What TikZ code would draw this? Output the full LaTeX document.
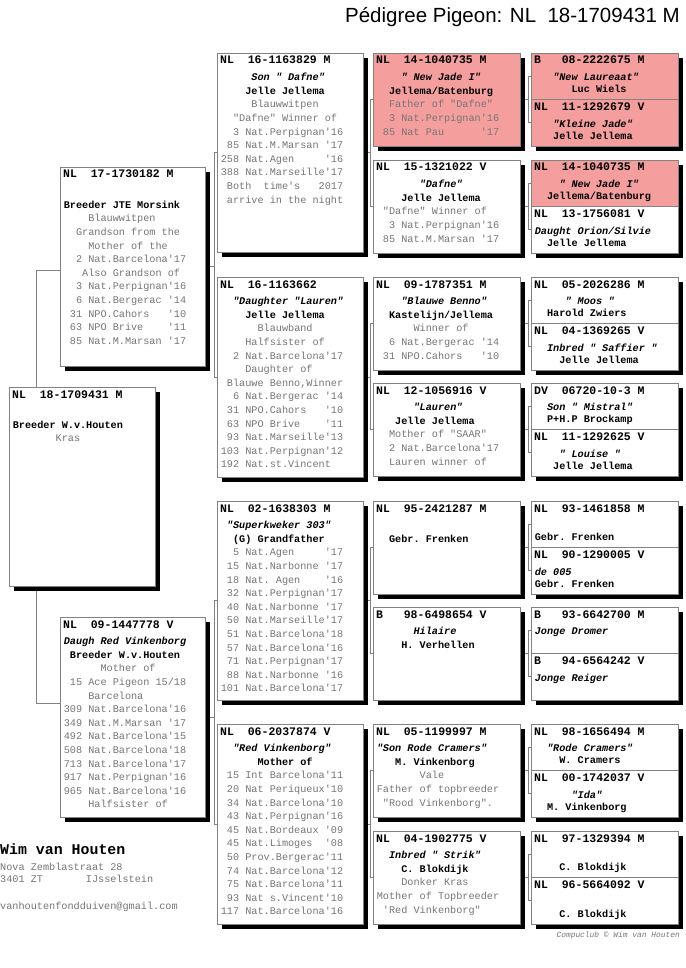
\documentclass[tikz,border=0pt]{standalone}
\usepackage{fontspec}
\setmainfont{Liberation Sans}
\setmonofont{Liberation Mono}
\usetikzlibrary{backgrounds}
\definecolor{pinkf}{RGB}{244,158,158}
\definecolor{txtgray}{RGB}{118,118,118}
\definecolor{lngray}{RGB}{130,130,130}
\newcommand\ind[1]{\hspace*{#1\fontcharwd\font`0}}
\newcommand\fst{\rule{0pt}{9pt}}
\newcommand\qs{\textquotesingle}
\newcommand\nmb[1]{{\color{black}\bfseries#1}}
\newcommand\nmbi[1]{{\color{black}\bfseries\itshape#1}}
\newcommand\shd[4]{\fill[black] (#1+5,#2+5) rectangle (#1+#3+5,#2+#4+5);}
\newcommand\pb[6]{\shd{#2}{#3}{#4}{#5}\node[box,fill=#6,minimum width=#4pt,minimum height=#5pt] (#1) at (#2,#3) {};}
\newcommand\qp[4]{\shd{531}{#2}{147}{93}%
  \node[box,fill=#3,minimum width=147pt,minimum height=46.5pt] (#1a) at (531,#2) {};%
  \node[box,fill=#4,minimum width=147pt,minimum height=46.5pt] (#1b) at (531,#2+46.5) {};}
\newcommand\hd[2]{\node[hdr] (#1-h) at ([shift={(3,11)}]#1.north west) {#2};}
\newcommand\bd[2]{\node[body] (#1-t) at ([shift={(3.6,18.5)}]#1.north west) {\fst#2};}
\newcommand\bq[2]{\node[bodyq] (#1-t) at ([shift={(3.6,18.5)}]#1.north west) {\fst#2};}
\newcommand\cn[2]{\draw[conn] (#1.east) -| ([xshift=-3pt]#2.west) -- (#2.west);}
\tikzset{
  box/.style={draw=lngray,line width=0.7pt,anchor=north west,inner sep=0pt,outer sep=0pt},
  hdr/.style={anchor=base west,inner sep=0pt,font=\ttfamily\bfseries\fontsize{11.5}{12}\selectfont},
  body/.style={anchor=north west,inner sep=0pt,align=left,text=txtgray,
    font=\ttfamily\frenchspacing\fontsize{10.2}{13.6}\selectfont},
  bodyq/.style={body,font=\ttfamily\frenchspacing\fontsize{10.2}{12}\selectfont},
  conn/.style={draw=lngray,line width=0.7pt}
}
\begin{document}
\begin{tikzpicture}[x=1pt,y=-1pt]
\begin{scope}[on background layer]
\fill[white] (0,0) rectangle (685,968);
\end{scope}
\useasboundingbox (0,0) rectangle (685,968);
% title
\node[anchor=base east,inner sep=0pt,font=\fontsize{20.5}{24}\selectfont] (title) at (680,23) {Pédigree Pigeon: NL~~18-1709431 M};
% generation 1 and subject
\pb{g1a}{60}{167}{145}{199}{white}
\pb{sub}{9}{387}{146}{199}{white}
\pb{g1b}{60}{617}{145}{200}{white}
% generation 2
\pb{g2a}{217}{53}{146}{199}{white}
\pb{g2b}{217}{277}{146}{200}{white}
\pb{g2c}{217}{501}{146}{199}{white}
\pb{g2d}{217}{724}{146}{200}{white}
% generation 3
\pb{g3a}{373}{53}{147}{93}{pinkf}
\pb{g3b}{373}{160}{147}{93}{white}
\pb{g3c}{373}{277}{147}{93}{white}
\pb{g3d}{373}{383}{147}{93}{white}
\pb{g3e}{373}{501}{147}{93}{white}
\pb{g3f}{373}{607}{147}{93}{white}
\pb{g3g}{373}{724}{147}{93}{white}
\pb{g3h}{373}{831}{147}{93}{white}
% generation 4
\qp{q1}{53}{pinkf}{pinkf}
\qp{q2}{160}{pinkf}{white}
\qp{q3}{277}{white}{white}
\qp{q4}{383}{white}{white}
\qp{q5}{501}{white}{white}
\qp{q6}{607}{white}{white}
\qp{q7}{724}{white}{white}
\qp{q8}{831}{white}{white}
% connectors
\begin{scope}[on background layer]
\draw[conn] ([yshift=-3.5pt]g1a.west) -| ([xshift=27pt]sub.north west);
\draw[conn] ([xshift=27pt]sub.south west) |- ([yshift=14pt]g1b.west);
\cn{g1a}{g2a}\cn{g1a}{g2b}\cn{g1b}{g2c}\cn{g1b}{g2d}
\cn{g2a}{g3a}\cn{g2a}{g3b}\cn{g2b}{g3c}\cn{g2b}{g3d}
\cn{g2c}{g3e}\cn{g2c}{g3f}\cn{g2d}{g3g}\cn{g2d}{g3h}
\cn{g3a}{q1a}\cn{g3a}{q1b}\cn{g3b}{q2a}\cn{g3b}{q2b}
\cn{g3c}{q3a}\cn{g3c}{q3b}\cn{g3d}{q4a}\cn{g3d}{q4b}
\cn{g3e}{q5a}\cn{g3e}{q5b}\cn{g3f}{q6a}\cn{g3f}{q6b}
\cn{g3g}{q7a}\cn{g3g}{q7b}\cn{g3h}{q8a}\cn{g3h}{q8b}
\end{scope}
% ---- texts: subject and gen 1
\hd{sub}{NL~~18-1709431 M}
\bd{sub}{\\\nmb{Breeder W.v.Houten}\\\ind{7}Kras}
\hd{g1a}{NL~~17-1730182 M}
\bd{g1a}{\\\nmb{Breeder JTE Morsink}\\
\ind{4}Blauwwitpen\\
\ind{2}Grandson from the\\
\ind{4}Mother of the\\
\ind{2}2 Nat.Barcelona\qs17\\
\ind{3}Also Grandson of\\
\ind{2}3 Nat.Perpignan\qs16\\
\ind{2}6 Nat.Bergerac~\qs14\\
\ind{1}31 NPO.Cahors~~~\qs10\\
\ind{1}63 NPO Brive~~~~\qs11\\
\ind{1}85 Nat.M.Marsan~\qs17}
\hd{g1b}{NL~~09-1447778 V}
\bd{g1b}{\nmbi{Daugh Red Vinkenborg}\\
\nmb{\ind{1}Breeder W.v.Houten}\\
\ind{6}Mother of\\
\ind{1}15 Ace Pigeon 15/18\\
\ind{4}Barcelona\\
309 Nat.Barcelona\qs16\\
349 Nat.M.Marsan~\qs17\\
492 Nat.Barcelona\qs15\\
508 Nat.Barcelona\qs18\\
713 Nat.Barcelona\qs17\\
917 Nat.Perpignan\qs16\\
965 Nat.Barcelona\qs16\\
\ind{4}Halfsister of}
% ---- gen 2
\hd{g2a}{NL~~16-1163829 M}
\bd{g2a}{\nmbi{\ind{5}Son "~Dafne"}\\
\nmb{\ind{4}Jelle Jellema}\\
\ind{5}Blauwwitpen\\
\ind{2}"Dafne" Winner of\\
\ind{2}3 Nat.Perpignan\qs16\\
\ind{1}85 Nat.M.Marsan~\qs17\\
258 Nat.Agen~~~~~\qs16\\
388 Nat.Marseille\qs17\\
\ind{1}Both~~time\qs s~~~2017\\
\ind{1}arrive in the night}
\hd{g2b}{NL~~16-1163662}
\bd{g2b}{\nmbi{\ind{2}"Daughter "Lauren"}\\
\nmb{\ind{4}Jelle Jellema}\\
\ind{6}Blauwband\\
\ind{4}Halfsister of\\
\ind{2}2 Nat.Barcelona\qs17\\
\ind{4}Daughter of\\
\ind{1}Blauwe Benno,Winner\\
\ind{2}6 Nat.Bergerac~\qs14\\
\ind{1}31 NPO.Cahors~~~\qs10\\
\ind{1}63 NPO Brive~~~~\qs11\\
\ind{1}93 Nat.Marseille\qs13\\
103 Nat.Perpignan\qs12\\
192 Nat.st.Vincent}
\hd{g2c}{NL~~02-1638303 M}
\bd{g2c}{\nmbi{\ind{1}"Superkweker 303"}\\
\nmb{\ind{2}(G) Grandfather}\\
\ind{2}5 Nat.Agen~~~~~\qs17\\
\ind{1}15 Nat.Narbonne~\qs17\\
\ind{1}18 Nat. Agen~~~~\qs16\\
\ind{1}32 Nat.Perpignan\qs17\\
\ind{1}40 Nat.Narbonne~\qs17\\
\ind{1}50 Nat.Marseille\qs17\\
\ind{1}51 Nat.Barcelona\qs18\\
\ind{1}57 Nat.Barcelona\qs16\\
\ind{1}71 Nat.Perpignan\qs17\\
\ind{1}88 Nat.Narbonne~\qs16\\
101 Nat.Barcelona\qs17}
\hd{g2d}{NL~~06-2037874 V}
\bd{g2d}{\nmbi{\ind{2}"Red Vinkenborg"}\\
\nmb{\ind{6}Mother of}\\
\ind{1}15 Int Barcelona\qs11\\
\ind{1}20 Nat Periqueux\qs10\\
\ind{1}34 Nat.Barcelona\qs10\\
\ind{1}43 Nat.Perpignan\qs16\\
\ind{1}45 Nat.Bordeaux~\qs09\\
\ind{1}45 Nat.Limoges~~\qs08\\
\ind{1}50 Prov.Bergerac\qs11\\
\ind{1}74 Nat.Barcelona\qs12\\
\ind{1}75 Nat.Barcelona\qs11\\
\ind{1}93 Nat s.Vincent\qs10\\
117 Nat.Barcelona\qs16}
% ---- gen 3
\hd{g3a}{NL~~14-1040735 M}
\bd{g3a}{\nmbi{\ind{4}"~New Jade I"}\\
\nmb{\ind{2}Jellema/Batenburg}\\
\ind{2}Father of "Dafne"\\
\ind{2}3 Nat.Perpignan\qs16\\
\ind{1}85 Nat Pau~~~~~~\qs17}
\hd{g3b}{NL~~15-1321022 V}
\bd{g3b}{\nmbi{\ind{7}"Dafne"}\\
\nmb{\ind{4}Jelle Jellema}\\
\ind{1}"Dafne" Winner of\\
\ind{2}3 Nat.Perpignan\qs16\\
\ind{1}85 Nat.M.Marsan~\qs17}
\hd{g3c}{NL~~09-1787351 M}
\bd{g3c}{\nmbi{\ind{4}"Blauwe Benno"}\\
\nmb{\ind{2}Kastelijn/Jellema}\\
\ind{6}Winner of\\
\ind{2}6 Nat.Bergerac~\qs14\\
\ind{1}31 NPO.Cahors~~~\qs10}
\hd{g3d}{NL~~12-1056916 V}
\bd{g3d}{\nmbi{\ind{6}"Lauren"}\\
\nmb{\ind{3}Jelle Jellema}\\
\ind{2}Mother of "SAAR"\\
\ind{2}2 Nat.Barcelona\qs17\\
\ind{2}Lauren winner of}
\hd{g3e}{NL~~95-2421287 M}
\bd{g3e}{\\\nmb{\ind{2}Gebr. Frenken}}
\hd{g3f}{B~~~98-6498654 V}
\bd{g3f}{\nmbi{\ind{6}Hilaire}\\\nmb{\ind{4}H. Verhellen}}
\hd{g3g}{NL~~05-1199997 M}
\bd{g3g}{\nmbi{"Son Rode Cramers"}\\
\nmb{\ind{3}M. Vinkenborg}\\
\ind{7}Vale\\
Father of topbreeder\\
\ind{1}"Rood Vinkenborg".}
\hd{g3h}{NL~~04-1902775 V}
\bd{g3h}{\nmbi{\ind{2}Inbred "~Strik"}\\
\nmb{\ind{4}C. Blokdijk}\\
\ind{4}Donker Kras\\
Mother of Topbreeder\\
\ind{1}\qs Red Vinkenborg"}
% ---- gen 4
\hd{q1a}{B~~~08-2222675 M}
\bq{q1a}{\nmbi{\ind{3}"New Laureaat"}\\\nmb{\ind{6}Luc Wiels}}
\hd{q1b}{NL~~11-1292679 V}
\bq{q1b}{\nmbi{\ind{3}"Kleine Jade"}\\\nmb{\ind{3}Jelle Jellema}}
\hd{q2a}{NL~~14-1040735 M}
\bq{q2a}{\nmbi{\ind{4}"~New Jade I"}\\\nmb{\ind{2}Jellema/Batenburg}}
\hd{q2b}{NL~~13-1756081 V}
\bq{q2b}{\nmbi{Daught Orion/Silvie}\\\nmb{\ind{2}Jelle Jellema}}
\hd{q3a}{NL~~05-2026286 M}
\bq{q3a}{\nmbi{\ind{5}"~Moos~"}\\\nmb{\ind{2}Harold Zwiers}}
\hd{q3b}{NL~~04-1369265 V}
\bq{q3b}{\nmbi{\ind{2}Inbred "~Saffier~"}\\\nmb{\ind{4}Jelle Jellema}}
\hd{q4a}{DV~~06720-10-3 M}
\bq{q4a}{\nmbi{\ind{2}Son "~Mistral"}\\\nmb{\ind{2}P+H.P Brockamp}}
\hd{q4b}{NL~~11-1292625 V}
\bq{q4b}{\nmbi{\ind{4}"~Louise~"}\\\nmb{\ind{3}Jelle Jellema}}
\hd{q5a}{NL~~93-1461858 M}
\bq{q5a}{\\\nmb{Gebr. Frenken}}
\hd{q5b}{NL~~90-1290005 V}
\bq{q5b}{\nmbi{de 005}\\\nmb{Gebr. Frenken}}
\hd{q6a}{B~~~93-6642700 M}
\bq{q6a}{\nmbi{Jonge Dromer}}
\hd{q6b}{B~~~94-6564242 V}
\bq{q6b}{\nmbi{Jonge Reiger}}
\hd{q7a}{NL~~98-1656494 M}
\bq{q7a}{\nmbi{\ind{2}"Rode Cramers"}\\\nmb{\ind{4}W. Cramers}}
\hd{q7b}{NL~~00-1742037 V}
\bq{q7b}{\nmbi{\ind{6}"Ida"}\\\nmb{\ind{2}M. Vinkenborg}}
\hd{q8a}{NL~~97-1329394 M}
\bq{q8a}{\\\nmb{\ind{4}C. Blokdijk}}
\hd{q8b}{NL~~96-5664092 V}
\bq{q8b}{\\\nmb{\ind{4}C. Blokdijk}}
% ---- footer
\node[anchor=base west,inner sep=0pt,font=\ttfamily\bfseries\fontsize{14.9}{16}\selectfont] (owner) at (0,854) {Wim van Houten};
\node[body,bodyq] (addr) at (0,861.6) {\fst Nova Zemblastraat 28\\3401 ZT~~~~~~~IJsselstein};
\node[anchor=base west,inner sep=0pt,text=txtgray,font=\ttfamily\fontsize{10.2}{12}\selectfont] (mail) at (0,909.6) {vanhoutenfondduiven@gmail.com};
\node[anchor=base east,inner sep=0pt,text=txtgray,font=\ttfamily\itshape\fontsize{7.9}{9}\selectfont] (cc) at (680,937.5) {Compuclub © Wim van Houten};
\end{tikzpicture}
\end{document}
